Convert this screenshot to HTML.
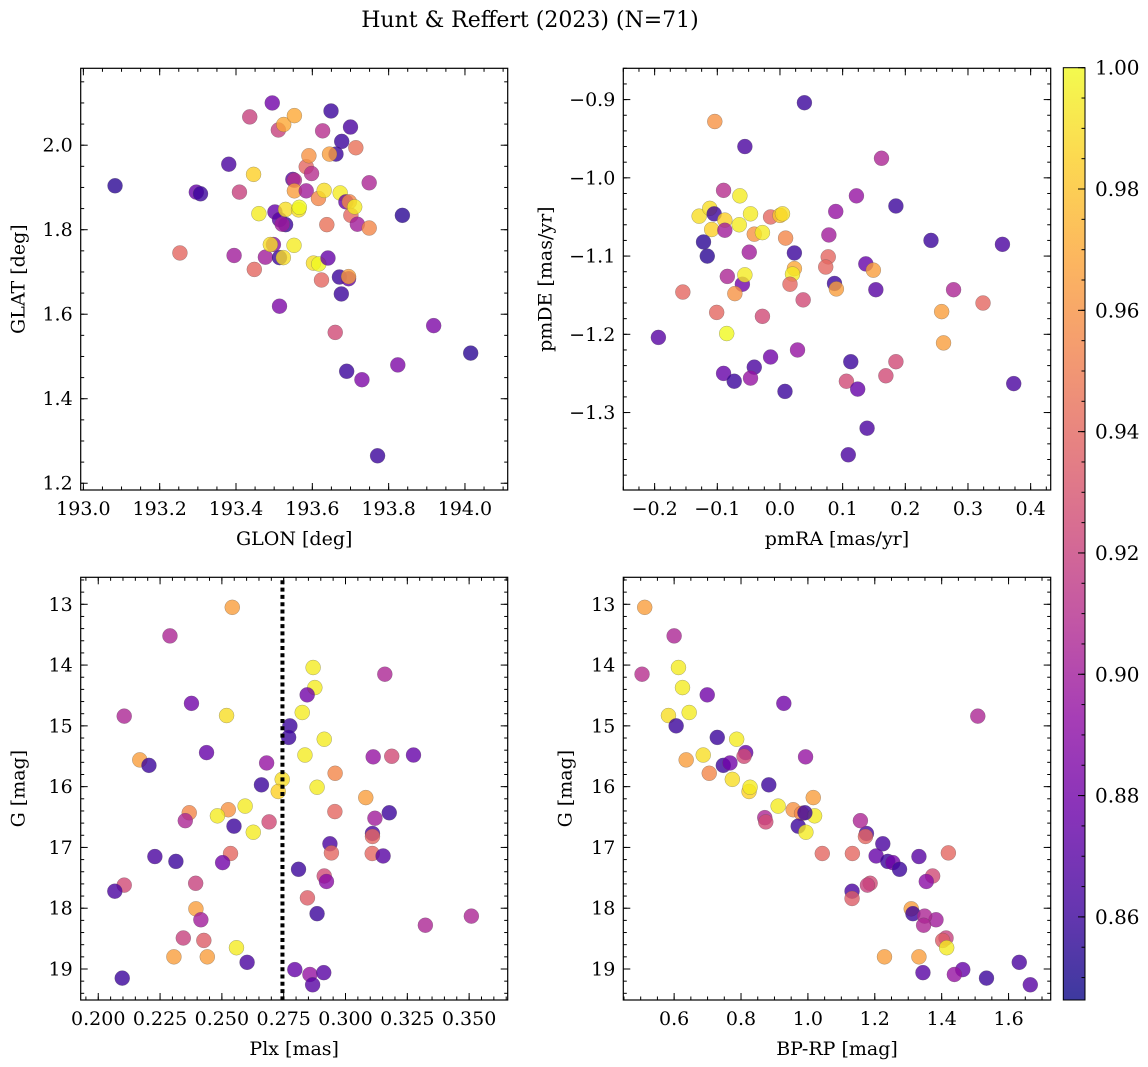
<!DOCTYPE html>
<html><head><meta charset="utf-8">
<style>
html,body{margin:0;padding:0;background:#fff;}
svg{display:block;font-family:"DejaVu Serif","Liberation Serif",serif;}
</style></head>
<body>
<svg id="fig" width="1148" height="1067" viewBox="0 0 1148 1067" xmlns="http://www.w3.org/2000/svg">
<rect width="1148" height="1067" fill="#fff"/>
<text x="530" y="27" font-size="22" text-anchor="middle">Hunt &amp; Reffert (2023) (N=71)</text>
</svg>
<script>
// ---- Panel 1: GLON vs GLAT ----
const p1Glon = [193.083,193.296,193.307,193.381,193.409,193.436,193.495,193.446,193.460,193.253,
193.395,193.448,193.477,193.498,193.490,193.514,193.524,193.514,193.511,193.525,
193.553,193.502,193.514,193.530,193.521,193.530,193.564,193.566,193.552,193.549,
193.553,193.553,193.584,193.584,193.598,193.591,193.603,193.617,193.624,193.616,
193.631,193.627,193.649,193.662,193.645,193.677,193.700,193.638,193.641,193.673,
193.688,193.697,193.701,193.711,193.718,193.714,193.749,193.749,193.671,193.695,
193.695,193.676,193.660,193.690,193.730,193.771,193.824,193.836,193.918,194.015];
const p1Glat = [1.904,1.889,1.885,1.955,1.889,2.067,2.100,1.931,1.838,1.745,
1.739,1.706,1.735,1.765,1.765,1.734,1.734,1.619,2.036,2.049,
2.070,1.842,1.824,1.812,1.813,1.848,1.847,1.853,1.763,1.919,
1.917,1.892,1.892,1.949,1.933,1.975,1.721,1.719,1.681,1.874,
1.893,2.034,2.081,1.979,1.979,2.009,2.043,1.812,1.733,1.887,
1.866,1.866,1.834,1.854,1.813,1.994,1.911,1.804,1.688,1.684,
1.689,1.648,1.557,1.465,1.445,1.265,1.480,1.834,1.573,1.508];
const p1Prob = [.855,.875,.86,.865,.92,.92,.88,.985,.995,.94,
.90,.94,.90,.89,.99,.86,.99,.885,.92,.97,
.97,.875,.87,.86,.90,.99,.99,1.0,.995,.87,
.91,.965,.90,.94,.91,.96,.99,1.0,.94,.955,
.99,.91,.86,.86,.965,.86,.865,.945,.875,.995,
.875,.955,.94,.995,.90,.945,.905,.955,.86,.875,
.965,.86,.925,.86,.885,.86,.885,.855,.885,.855];

// ---- Panel 2: pmRA vs pmDE ----
const p2Pmra = [0.039,-0.104,-0.056,0.162,-0.090,-0.064,0.122,0.185,0.089,-0.129,
-0.112,-0.105,-0.088,-0.109,-0.088,-0.065,-0.047,-0.041,-0.028,-0.015,
0.000,0.004,0.009,0.078,-0.122,-0.116,-0.049,0.023,0.077,0.073,
0.023,0.020,0.016,0.137,0.149,-0.084,-0.060,-0.056,-0.072,-0.155,
0.087,0.090,0.153,0.277,0.037,0.324,0.258,-0.101,-0.028,0.241,
0.355,-0.085,-0.194,0.261,0.028,-0.015,0.113,0.185,-0.041,-0.090,
-0.047,-0.073,0.106,0.169,0.373,0.008,0.124,0.139,0.109];
const p2Pmde = [-0.904,-0.928,-0.960,-0.975,-1.016,-1.023,-1.023,-1.036,-1.043,-1.049,
-1.039,-1.046,-1.054,-1.066,-1.067,-1.060,-1.046,-1.072,-1.070,-1.050,
-1.048,-1.046,-1.077,-1.073,-1.082,-1.100,-1.095,-1.096,-1.101,-1.114,
-1.116,-1.123,-1.136,-1.110,-1.118,-1.126,-1.136,-1.124,-1.148,-1.146,
-1.135,-1.142,-1.143,-1.143,-1.156,-1.160,-1.171,-1.172,-1.177,-1.080,
-1.085,-1.199,-1.204,-1.211,-1.220,-1.229,-1.235,-1.235,-1.242,-1.250,
-1.256,-1.260,-1.260,-1.253,-1.263,-1.273,-1.270,-1.320,-1.354];
const p2Prob = [.86,.96,.865,.905,.91,.995,.895,.86,.895,.99,
.99,.86,.985,.985,.90,.995,.995,.96,.995,.94,
.98,.99,.955,.90,.855,.855,.90,.86,.94,.94,
.97,.995,.94,.875,.965,.905,.88,.995,.96,.94,
.86,.965,.87,.905,.925,.94,.965,.94,.925,.86,
.865,1.0,.87,.965,.895,.88,.86,.925,.865,.875,
.895,.86,.925,.925,.865,.86,.875,.865,.865];

// ---- Panel 3: Plx vs G ----
const p3Plx = [0.2542,0.2290,0.2869,0.2876,0.2845,0.3159,0.2377,0.2105,0.2519,0.2825,
0.2775,0.2770,0.2914,0.2438,0.2836,0.3112,0.3187,0.3275,0.2168,0.2205,
0.2681,0.2958,0.2660,0.2744,0.2728,0.2885,0.3082,0.2594,0.2526,0.2368,
0.2482,0.2352,0.3177,0.2957,0.3119,0.2691,0.2549,0.2627,0.3109,0.3109,
0.2937,0.2943,0.3108,0.3152,0.2535,0.2229,0.2314,0.2503,0.2810,0.2914,
0.2923,0.2105,0.2067,0.2394,0.2846,0.2395,0.2415,0.2885,0.3509,0.3323,
0.2344,0.2427,0.2559,0.2306,0.2441,0.2602,0.2795,0.2856,0.2867,0.2912,0.2097];
const p3G = [13.05,13.52,14.04,14.37,14.49,14.15,14.63,14.84,14.83,14.78,
15.00,15.19,15.22,15.44,15.48,15.51,15.50,15.48,15.56,15.65,
15.61,15.78,15.97,15.88,16.08,16.01,16.18,16.32,16.38,16.43,
16.48,16.56,16.43,16.41,16.52,16.58,16.65,16.75,16.77,16.82,
16.94,17.09,17.10,17.14,17.10,17.15,17.23,17.25,17.36,17.47,
17.56,17.62,17.72,17.59,17.83,18.01,18.19,18.09,18.13,18.28,
18.49,18.53,18.65,18.80,18.80,18.89,19.01,19.09,19.26,19.06,19.15];
const p3Prob = [.965,.905,.995,.995,.88,.905,.88,.905,.99,.995,
.86,.86,.995,.875,.995,.895,.925,.875,.965,.86,
.895,.955,.86,.99,.985,.995,.965,.995,.96,.955,
.995,.905,.86,.94,.90,.925,.86,.995,.865,.94,
.865,.94,.94,.87,.94,.865,.86,.88,.86,.925,
.89,.925,.865,.92,.935,.965,.90,.86,.905,.905,
.92,.935,.995,.965,.965,.865,.875,.895,.87,.87,.86];
const plxMedian = 0.2745;

// ---- Panel 4: BP-RP vs G ----
const p4Bprp = [0.512,0.600,0.504,0.613,0.625,0.699,0.928,1.508,0.583,0.645,
0.606,0.729,0.787,0.814,0.687,0.993,0.809,0.636,0.747,0.767,
0.705,0.883,0.774,0.824,0.827,1.016,0.911,0.956,0.981,1.020,
0.871,0.991,0.874,0.971,0.994,1.175,1.172,1.157,1.224,1.043,
1.133,1.332,1.420,1.204,1.239,1.254,1.274,1.373,1.354,1.186,
1.132,1.178,1.132,1.309,1.383,1.314,1.349,1.346,1.413,1.403,
1.415,1.229,1.332,1.632,1.463,1.438,1.665,1.344,1.534];
const p4G = [13.05,13.52,14.15,14.04,14.37,14.49,14.63,14.84,14.83,14.78,
15.00,15.19,15.22,15.44,15.48,15.51,15.50,15.56,15.65,15.61,
15.78,15.97,15.88,16.08,16.01,16.18,16.32,16.38,16.44,16.48,
16.51,16.43,16.58,16.65,16.75,16.77,16.82,16.56,16.94,17.10,
17.10,17.15,17.09,17.14,17.23,17.25,17.36,17.47,17.56,17.59,
17.72,17.62,17.84,18.01,18.19,18.09,18.13,18.28,18.49,18.53,
18.65,18.80,18.80,18.89,19.01,19.09,19.26,19.06,19.15];
const p4Prob = [.965,.905,.91,.995,.995,.88,.88,.905,.99,.995,
.86,.86,.995,.875,.99,.895,.925,.965,.86,.88,
.955,.86,.99,.985,.995,.965,.995,.96,.955,.995,
.905,.86,.925,.86,.995,.865,.94,.905,.865,.94,
.94,.87,.94,.875,.86,.88,.86,.925,.89,.925,
.865,.92,.935,.965,.90,.86,.905,.905,.92,.935,
.995,.965,.965,.865,.875,.895,.87,.87,.86];

// ---- Colorbar ----
const cbMin = 0.8463, cbMax = 1.0;
const cbTicks = [0.86,0.88,0.90,0.92,0.94,0.96,0.98,1.00];

const NS = "http://www.w3.org/2000/svg";
const svg = document.getElementById('fig');
const stops = ["#0d0887","#41049d","#6a00a8","#8f0da4","#b12a90","#cc4778","#e16462","#f2844b","#fca636","#fcce25","#f0f921"];
function hex(h){return [1,3,5].map(i=>parseInt(h.substr(i,2),16));}
function plasma(t){
  t=Math.max(0,Math.min(1,t));const f=t*10;const i=Math.min(9,Math.floor(f));const u=f-i;
  const a=hex(stops[i]),b=hex(stops[i+1]);
  return 'rgb('+a.map((v,k)=>Math.round(v+(b[k]-v)*u)).join(',')+')';
}
function el(tag,attrs,parent){const e=document.createElementNS(NS,tag);for(const k in attrs)e.setAttribute(k,attrs[k]);(parent||svg).appendChild(e);return e;}
function fmt(v,d){const s=Math.abs(v).toFixed(d);return (v< -1e-9?'\u2212':'')+s;}

function drawPanel(cfg,xs,ys,cs,name){
  const [L,T,R,B]=cfg.box;
  const g=el('g',{});
  
  
  const sx=v=>L+(v-cfg.xd[0])/(cfg.xd[1]-cfg.xd[0])*(R-L);
  const sy=v=>cfg.inv? T+(v-cfg.yd[0])/(cfg.yd[1]-cfg.yd[0])*(B-T) : B-(v-cfg.yd[0])/(cfg.yd[1]-cfg.yd[0])*(B-T);
  const clip=el('clipPath',{id:'c'+name},g);el('rect',{x:L,y:T,width:R-L,height:B-T},clip);
  const pts=el('g',{'clip-path':'url(#c'+name+')'},g);
  for(let i=0;i<xs.length;i++){
    const c=el('circle',{cx:sx(xs[i]),cy:sy(ys[i]),r:7.5,fill:plasma((cs[i]-cbMin)/(cbMax-cbMin)),'fill-opacity':0.8,stroke:'#555','stroke-opacity':0.5,'stroke-width':0.5},pts);
    
    
  }
  if(cfg.vline!==undefined){
    const ln=el('line',{x1:sx(cfg.vline),x2:sx(cfg.vline),y1:T+3,y2:B,stroke:'#000','stroke-width':4,'stroke-dasharray':'4,3.3'},g);
    
    
  }
  const tk=el('g',{stroke:'#000','stroke-width':1},g);
  function ticks(lo,hi,step,fn){const a=Math.ceil(lo/step-1e-6),b=Math.floor(hi/step+1e-6);for(let k=a;k<=b;k++)fn(k*step);}
  ticks(cfg.xd[0],cfg.xd[1],cfg.xmin,v=>{const x=sx(v);el('line',{x1:x,x2:x,y1:B,y2:B-3.5},tk);el('line',{x1:x,x2:x,y1:T,y2:T+3.5},tk);});
  ticks(Math.min(...cfg.yd),Math.max(...cfg.yd),cfg.ymin,v=>{const y=sy(v);el('line',{x1:L,x2:L+3.5,y1:y,y2:y},tk);el('line',{x1:R,x2:R-3.5,y1:y,y2:y},tk);});
  ticks(cfg.xd[0],cfg.xd[1],cfg.xmaj,v=>{const x=sx(v);el('line',{x1:x,x2:x,y1:B,y2:B-7},tk);el('line',{x1:x,x2:x,y1:T,y2:T+7},tk);
    const t=el('text',{x:x,y:B+25,'font-size':19,'text-anchor':'middle'},g);t.textContent=fmt(v,cfg.xdec);
    
    });
  ticks(Math.min(...cfg.yd),Math.max(...cfg.yd),cfg.ymaj,v=>{const y=sy(v);el('line',{x1:L,x2:L+7,y1:y,y2:y},tk);el('line',{x1:R,x2:R-7,y1:y,y2:y},tk);
    const t=el('text',{x:L-8,y:y+6.5,'font-size':19,'text-anchor':'end'},g);t.textContent=fmt(v,cfg.ydec);
    
    });
  const fr=el('rect',{x:L,y:T,width:R-L,height:B-T,fill:'none',stroke:'#000','stroke-width':1.2},g);
  
  
  const xl=el('text',{x:(L+R)/2,y:B+55,'font-size':19,'text-anchor':'middle'},g);xl.textContent=cfg.xlabel;
  
  
  const yx=L-cfg.yoff, yy=(T+B)/2;
  const yl=el('text',{x:yx,y:yy,'font-size':19,'text-anchor':'middle',transform:'rotate(-90 '+yx+' '+yy+')'},g);yl.textContent=cfg.ylabel;
  
  
}

drawPanel({box:[80.7,68.3,507.7,490],xd:[192.993,194.112],yd:[1.184,2.182],inv:false,xmaj:0.2,xmin:0.05,ymaj:0.2,ymin:0.05,xdec:1,ydec:1,xlabel:'GLON [deg]',ylabel:'GLAT [deg]',yoff:56},p1Glon,p1Glat,p1Prob,'panel-glon-glat');
drawPanel({box:[623.3,68.3,1050.7,490],xd:[-0.25,0.432],yd:[-1.399,-0.860],inv:false,xmaj:0.1,xmin:0.025,ymaj:0.1,ymin:0.02,xdec:1,ydec:1,xlabel:'pmRA [mas/yr]',ylabel:'pmDE [mas/yr]',yoff:72},p2Pmra,p2Pmde,p2Prob,'panel-pm');
drawPanel({box:[80.7,577.3,507.7,1000],xd:[0.1929,0.3656],yd:[12.556,19.51],inv:true,xmaj:0.025,xmin:0.005,ymaj:1,ymin:0.2,xdec:3,ydec:0,xlabel:'Plx [mas]',ylabel:'G [mag]',yoff:56,vline:plxMedian},p3Plx,p3G,p3Prob,'panel-plx-g');
drawPanel({box:[623.3,577.3,1050.7,1000],xd:[0.448,1.726],yd:[12.556,19.51],inv:true,xmaj:0.2,xmin:0.05,ymaj:1,ymin:0.2,xdec:1,ydec:0,xlabel:'BP-RP [mag]',ylabel:'G [mag]',yoff:52},p4Bprp,p4G,p4Prob,'panel-cmd');

(function(){
  const L=1063.3,R=1085,T=67.7,B=1000;
  const defs=el('defs',{});
  const gr=el('linearGradient',{id:'cbg',x1:0,y1:1,x2:0,y2:0},defs);
  for(let i=0;i<=10;i++)el('stop',{offset:i/10,'stop-color':stops[i],'stop-opacity':0.8},gr);
  const cb=el('g',{});
  
  
  el('rect',{x:L,y:T,width:R-L,height:B-T,fill:'#fff'},cb);
  el('rect',{x:L,y:T,width:R-L,height:B-T,fill:'url(#cbg)',stroke:'#000','stroke-width':1},cb);
  const sy=v=>B-(v-cbMin)/(cbMax-cbMin)*(B-T);
  for(let k=Math.ceil(cbMin/0.005);k<=200;k++){const y=sy(k*0.005);el('line',{x1:R,x2:R-3.5,y1:y,y2:y,stroke:'#000','stroke-width':1},cb);}
  cbTicks.forEach(v=>{const y=sy(v);el('line',{x1:R,x2:R-7,y1:y,y2:y,stroke:'#000','stroke-width':1},cb);
    const t=el('text',{x:R+10,y:y+7,'font-size':20},cb);t.textContent=v.toFixed(2);
    
    });
})();
</script>
</body></html>
